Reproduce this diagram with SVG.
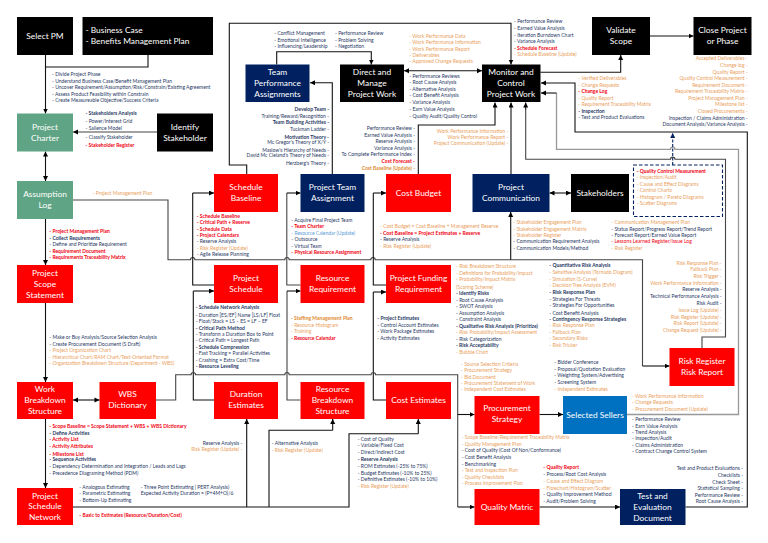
<svg xmlns="http://www.w3.org/2000/svg" width="768" height="543" viewBox="0 0 768 543">
<style>
text{font-family:"Lato","Open Sans","Liberation Sans",sans-serif;font-size:5px}
.n{fill:#1f3864}.o{fill:#e9a05c}.r{fill:#f00010;font-weight:700}.b{fill:#1f3864;font-weight:700}.ob{fill:#e08a30;font-weight:700}.lb{fill:#5b9bd5}
.e{text-anchor:end}
.t{fill:#fff;font-size:8.4px;text-anchor:middle}
.tl{fill:#fff;font-size:8.4px}
.red{fill:#f00}.blk{fill:#000}.nav{fill:#002060}.grn{fill:#5fa585}.blu{fill:#0070c0}
.c{fill:none;stroke:#111;stroke-width:1.1}
.d{fill:none;stroke:#444;stroke-width:1.1}
.g{fill:none;stroke:#999;stroke-width:1.3}
.a{marker-end:url(#ah)}.s{marker-start:url(#as)}
</style>
<defs>
<marker id="ah" markerWidth="6" markerHeight="6" refX="5" refY="2.5" orient="auto" markerUnits="userSpaceOnUse"><path d="M0 0L5 2.5L0 5z" fill="#000"/></marker>
<marker id="as" markerWidth="6" markerHeight="6" refX="0" refY="2.5" orient="auto" markerUnits="userSpaceOnUse"><path d="M5 0L0 2.5L5 5z" fill="#000"/></marker>
<marker id="an" markerWidth="6" markerHeight="6" refX="5" refY="2.5" orient="auto" markerUnits="userSpaceOnUse"><path d="M0 0L5 2.5L0 5z" fill="#002060"/></marker>
</defs>

<g id="connectors">
<path class="c a" d="M45.5 55V113.5"/>
<path class="c" d="M148 55V67H45.5"/>
<path class="d a" d="M157 132H73"/>
<path class="c a s" d="M45.5 151.5V181"/>
<path class="c a" d="M45.5 219V265"/>
<path class="c a" d="M45.5 303V382"/>
<path class="c a" d="M45.5 419V488"/>
<path class="c a s" d="M99.5 400H73"/>
<path class="d" d="M73 200H168V259.7H190.5A2.2 2.2 0 0 1 194.9 259.7H284.8A2.2 2.2 0 0 1 289.2 259.7H370.8A2.2 2.2 0 0 1 375.2 259.7H642.5V366"/>
<path class="c a" d="M642.5 366H669.5"/>
<path class="c a" d="M510.7 259.7V212"/>
<path class="c" d="M214 285H192.7V193"/>
<path class="c a" d="M192.7 193H214"/>
<path class="c" d="M214 400H193.3V291"/>
<path class="c a" d="M193.3 291H214"/>
<path class="d" d="M300.5 285H286.8V193"/>
<path class="c a" d="M286.8 193H300.5"/>
<path class="d" d="M300.5 400H287V291"/>
<path class="c a" d="M287 291H300.5"/>
<path class="c" d="M386 285H373.3V193"/>
<path class="c a" d="M373.3 193H386"/>
<path class="c" d="M386 400H373.3V292"/>
<path class="c a" d="M373.3 292H386"/>
<path class="d" d="M156 400H175.7V374.7H191.1A2.2 2.2 0 0 1 195.5 374.7H284.8A2.2 2.2 0 0 1 289.2 374.7H371.1A2.2 2.2 0 0 1 375.5 374.7H457.7V507"/>
<path class="c a" d="M457.7 414.5H474.5"/>
<path class="c a" d="M457.7 507H474.5"/>
<path class="c" d="M73 507H349V433.7H418.3"/>
<path class="c a" d="M418.3 433.7V419"/>
<path class="c a" d="M246.7 507V419"/>
<path class="c" d="M269 507V430.3H332.7"/>
<path class="c a" d="M332.7 430.3V419"/>
<path class="c a" d="M539.5 414.5H563"/>
<path class="c a" d="M539.5 507H620"/>
<path class="c a" d="M685.5 507H747.3V132H575V83H541"/>
<path class="g" d="M627 414.5H738.5V149.3H674.9A2.2 2.2 0 0 0 670.5 149.3H556.5V93"/>
<path class="c a" d="M556.5 93H541"/>
<path class="d" d="M702 348V337H725.5V159.3H674.9A2.2 2.2 0 0 0 670.5 159.3H525.7V110"/>
<path class="c a" d="M525.7 110V102.5"/>
<path class="c a" d="M540.5 72.3H620.7V55"/>
<path class="c a" d="M650 36H693.5"/>
<path class="c a s" d="M404 70.7H482"/>
<path class="c a" d="M276.7 64.5V51.7H371.3V64.5"/>
<path class="c a" d="M246.7 174V165H229.3V23.3H511V64.5"/>
<path class="c a" d="M332.3 174V82.7H310"/>
<path class="c a" d="M418.3 174V125H495V102.5"/>
<path class="c a" d="M511 174V102.5"/>
<path class="c a s" d="M549.5 193H571"/>
<path fill="none" stroke="#002060" stroke-width="1.1" stroke-dasharray="3 1.5" marker-end="url(#an)" d="M672.7 165V133"/>
</g>

<g id="select-pm"><rect class="blk" x="17" y="17" width="56" height="38"/><text class="t" x="45" y="39">Select PM</text></g>
<g id="business-case"><rect class="blk" x="82.5" y="17" width="130.5" height="38"/><text class="tl" x="85.5" y="33">- Business Case</text><text class="tl" x="85.5" y="44">- Benefits Management Plan</text></g>
<g id="project-charter"><rect class="grn" x="17" y="113.5" width="56" height="38"/><text class="t" x="45" y="130">Project</text><text class="t" x="45" y="141">Charter</text></g>
<g id="identify-stakeholder"><rect class="blk" x="157" y="113.5" width="56" height="38"/><text class="t" x="185" y="130">Identify</text><text class="t" x="185" y="141">Stakeholder</text></g>
<g id="assumption-log"><rect class="grn" x="17" y="181" width="56" height="38"/><text class="t" x="45" y="197">Assumption</text><text class="t" x="45" y="208">Log</text></g>
<g id="scope-statement"><rect class="red" x="17" y="265" width="56" height="38"/><text class="t" x="45" y="275.500">Project</text><text class="t" x="45" y="286.500">Scope</text><text class="t" x="45" y="297.500">Statement</text></g>
<g id="wbs"><rect class="red" x="17" y="382" width="56" height="37"/><text class="t" x="45" y="391.500">Work</text><text class="t" x="45" y="402.500">Breakdown</text><text class="t" x="45" y="413.500">Structure</text></g>
<g id="wbs-dictionary"><rect class="red" x="99.5" y="382" width="56.500" height="37"/><text class="t" x="127.500" y="397">WBS</text><text class="t" x="127.500" y="408">Dictionary</text></g>
<g id="schedule-network"><rect class="red" x="17" y="488" width="56" height="37"/><text class="t" x="45" y="498.500">Project</text><text class="t" x="45" y="509">Schedule</text><text class="t" x="45" y="520">Network</text></g>
<g id="schedule-baseline"><rect class="red" x="214" y="174" width="64" height="38"/><text class="t" x="246" y="190">Schedule</text><text class="t" x="246" y="201">Baseline</text></g>
<g id="team-assignment"><rect class="nav" x="300.5" y="174" width="64" height="38"/><text class="t" x="332.500" y="190">Project Team</text><text class="t" x="332.500" y="201">Assignment</text></g>
<g id="cost-budget"><rect class="red" x="386" y="174" width="65" height="38"/><text class="t" x="418.500" y="195.500">Cost Budget</text></g>
<g id="project-communication"><rect class="nav" x="472.5" y="174" width="77" height="38"/><text class="t" x="511" y="190">Project</text><text class="t" x="511" y="201">Communication</text></g>
<g id="stakeholders"><rect class="blk" x="571" y="174" width="58" height="38"/><text class="t" x="600" y="195.500">Stakeholders</text></g>
<g id="project-schedule"><rect class="red" x="214" y="265" width="64" height="38"/><text class="t" x="246" y="281">Project</text><text class="t" x="246" y="292">Schedule</text></g>
<g id="resource-requirement"><rect class="red" x="300.5" y="265" width="64" height="38"/><text class="t" x="332.500" y="281">Resource</text><text class="t" x="332.500" y="292">Requirement</text></g>
<g id="funding-requirement"><rect class="red" x="386" y="265" width="65" height="38"/><text class="t" x="418.500" y="281">Project Funding</text><text class="t" x="418.500" y="292">Requirement</text></g>
<g id="duration-estimates"><rect class="red" x="214" y="382" width="64" height="37"/><text class="t" x="246" y="397">Duration</text><text class="t" x="246" y="408">Estimates</text></g>
<g id="resource-breakdown"><rect class="red" x="300.5" y="382" width="64" height="37"/><text class="t" x="332.500" y="391.500">Resource</text><text class="t" x="332.500" y="402.500">Breakdown</text><text class="t" x="332.500" y="413.500">Structure</text></g>
<g id="cost-estimates"><rect class="red" x="386" y="382" width="65" height="37"/><text class="t" x="418.500" y="402.500">Cost Estimates</text></g>
<g id="procurement-strategy"><rect class="red" x="474.5" y="396" width="65" height="38"/><text class="t" x="507" y="411">Procurement</text><text class="t" x="507" y="422">Strategy</text></g>
<g id="quality-matric"><rect class="red" x="474.5" y="489" width="65" height="36"/><text class="t" x="507" y="510">Quality Matric</text></g>
<g id="selected-sellers"><rect class="blu" x="563" y="396" width="64" height="38"/><text class="t" x="595" y="417.500">Selected Sellers</text></g>
<g id="test-evaluation"><rect class="nav" x="620" y="489" width="65.500" height="36"/><text class="t" x="652.500" y="498.500">Test and</text><text class="t" x="652.500" y="509.500">Evaluation</text><text class="t" x="652.500" y="520.500">Document</text></g>
<g id="risk-register"><rect class="red" x="669.5" y="348" width="65" height="38"/><text class="t" x="702" y="364">Risk Register</text><text class="t" x="702" y="374.500">Risk Report</text></g>
<g id="team-performance"><rect class="nav" x="245.5" y="64.500" width="64" height="37.500"/><text class="t" x="277.500" y="74.500">Team</text><text class="t" x="277.500" y="85.500">Performance</text><text class="t" x="277.500" y="96.500">Assignments</text></g>
<g id="direct-manage"><rect class="blk" x="340" y="64.500" width="64" height="37.500"/><text class="t" x="372" y="74.500">Direct and</text><text class="t" x="372" y="85.500">Manage</text><text class="t" x="372" y="96.500">Project Work</text></g>
<g id="monitor-control"><rect class="blk" x="482" y="64.500" width="58.500" height="37.500"/><text class="t" x="511" y="74.500">Monitor and</text><text class="t" x="511" y="85.500">Control</text><text class="t" x="511" y="96.500">Project Work</text></g>
<g id="validate-scope"><rect class="blk" x="592" y="17" width="58" height="38"/><text class="t" x="621" y="33">Validate</text><text class="t" x="621" y="44">Scope</text></g>
<g id="close-project"><rect class="blk" x="693.5" y="17" width="58" height="38"/><text class="t" x="722.500" y="33">Close Project</text><text class="t" x="722.500" y="44">or Phase</text></g>
<g id="quality-control-box"><rect x="633.5" y="165" width="89" height="51.500" fill="#fff" stroke="#002060" stroke-width="1.1" stroke-dasharray="3.500 2"/>
<text class="r" x="636.700" y="172.700">- Quality Control Measurement</text>
<text class="o" x="636.700" y="179">- Inspection/Audit</text>
<text class="o" x="636.700" y="185.700">- Cause and Effect Diagrams</text>
<text class="o" x="636.700" y="191.700">- Control Charts</text>
<text class="o" x="636.700" y="199">- Histogram / Pareto Diagrams</text>
<text class="o" x="636.700" y="205">- Scatter Diagrams</text></g>

<g id="annotations">
<text class="n" x="52" y="76.400">- Divide Project Phase</text>
<text class="n" x="52" y="83">- Understand Business Case/Benefit Management Plan</text>
<text class="n" x="52" y="89">- Uncover Requirement/Assumption/Risk/Constrain/Existing Agreement</text>
<text class="n" x="52" y="95.700">- Assess Product Feasibility within Constrain</text>
<text class="n" x="52" y="102.400">- Create Measureable Objective/Success Criteria</text>
<text class="b" x="85.500" y="115.400">- Stakeholders Analysis</text>
<text class="n" x="85.500" y="122.700">- Power/Interest Grid</text>
<text class="n" x="85.500" y="129.700">- Salience Model</text>
<text class="n" x="85.500" y="139.400">- Classify Stakeholder</text>
<text class="r" x="85.500" y="146.700">- Stakeholder Register</text>

<text class="n" x="274.300" y="35">- Conflict Management</text>
<text class="n" x="274.300" y="41.700">- Emotional Intelligence</text>
<text class="n" x="274.300" y="48.400">- Influencing/Leadership</text>
<text class="n" x="335" y="35">- Performance Review</text>
<text class="n" x="335" y="41.700">- Problem Solving</text>
<text class="n" x="335" y="48.400">- Negotiation</text>

<text class="b e" x="329" y="111">Develop Team -</text>
<text class="n e" x="329" y="118.400">Training/Reward/Recognition -</text>
<text class="b e" x="329" y="124.400">Team Building Activities -</text>
<text class="n e" x="329" y="131">Tuckman Ladder -</text>
<text class="b e" x="329" y="138.700">Motivation Theory -</text>
<text class="n e" x="329" y="144.400">Mc Gregor's Theory of X/Y -</text>
<text class="n e" x="329" y="151.700">Maslow's Hierarchy of Needs -</text>
<text class="n e" x="329" y="157.400">David Mc Cleland's Theory of Needs -</text>
<text class="n e" x="329" y="165">Herzberg's Theory -</text>

<text class="n e" x="415" y="129.700">Performance Review -</text>
<text class="n e" x="415" y="136.700">Earned Value Analysis -</text>
<text class="n e" x="415" y="142.700">Reserve Analysis -</text>
<text class="n e" x="415" y="149.700">Variance Analysis -</text>
<text class="n e" x="415" y="156">To Complete Performance Index -</text>
<text class="r e" x="415" y="162.700">Cost Forecast -</text>
<text class="ob e" x="415" y="170">Cost Baseline (Update) -</text>

<text class="o" x="409.300" y="37.700">- Work Performance Data</text>
<text class="o" x="409.300" y="44">- Work Performance Information</text>
<text class="o" x="409.300" y="51">- Work Performance Report</text>
<text class="o" x="409.300" y="57">- Deliverables</text>
<text class="o" x="409.300" y="63.400">- Approved Change Requests</text>
<text class="n" x="409.300" y="78.400">- Performance Reviews</text>
<text class="n" x="409.300" y="84.400">- Root Cause Analysis</text>
<text class="n" x="409.300" y="91.400">- Alternative Analysis</text>
<text class="n" x="409.300" y="97.400">- Cost Benefit Analysis</text>
<text class="n" x="409.300" y="104.400">- Variance Analysis</text>
<text class="n" x="409.300" y="110.700">- Earn Value Analysis</text>
<text class="n" x="409.300" y="117.700">- Quality Audit/Quality Control</text>

<text class="n" x="514" y="22.700">- Performance Review</text>
<text class="n" x="514" y="30">- Earned Value Analysis</text>
<text class="n" x="514" y="36.700">- Iteration Burndown Chart</text>
<text class="n" x="514" y="43">- Variance Analysis</text>
<text class="r" x="514" y="50">- Schedule Forecast</text>
<text class="o" x="514" y="56">- Schedule Baseline (Update)</text>

<text class="o e" x="508.300" y="132.700">Work Performance Information -</text>
<text class="o e" x="508.300" y="138.700">Work Performance Report -</text>
<text class="o e" x="508.300" y="144.700">Project Communication (Update) -</text>

<text class="o" x="578.300" y="80">- Verified Deliverables</text>
<text class="o" x="578.300" y="86.700">- Change Requests</text>
<text class="r" x="578.300" y="93.400">- Change Log</text>
<text class="o" x="578.300" y="100.400">- Quality Report</text>
<text class="o" x="578.300" y="106.400">- Requirement Traceability Matrix</text>
<text class="b" x="578.300" y="112.700">- Inspection</text>
<text class="n" x="578.300" y="119.400">- Test and Product Evaluations</text>

<text class="o e" x="747.700" y="60.400">Accepted Deliverables -</text>
<text class="o e" x="747.700" y="67.400">Change log -</text>
<text class="o e" x="747.700" y="74">Quality Report -</text>
<text class="o e" x="747.700" y="80.400">Quality Control Measurement -</text>
<text class="o e" x="747.700" y="87.400">Requirement Document -</text>
<text class="o e" x="747.700" y="93.400">Requirement Traceability Matrix -</text>
<text class="o e" x="747.700" y="100.400">Project Management Plan -</text>
<text class="o e" x="747.700" y="106.400">Milestone list -</text>
<text class="o e" x="747.700" y="112.700">Closed Procurements -</text>
<text class="n e" x="747.700" y="119.700">Inspection / Claims Administration -</text>
<text class="n e" x="747.700" y="125.700">Document Analysis/Variance Analysis -</text>

<text class="o" x="92.700" y="195">- Project Management Plan</text>
<text class="r" x="49.300" y="233.400">- Project Management Plan</text>
<text class="b" x="49.300" y="240">- Collect Requirements</text>
<text class="n" x="49.300" y="246.400">- Define and Prioritize Requirement</text>
<text class="r" x="49.300" y="253">- Requirement Document</text>
<text class="r" x="49.300" y="259.400">- Requirements Traceability Matrix</text>
<text class="n" x="49.300" y="338.700">- Make or Buy Analysis/Source Selection Analysis</text>
<text class="n" x="49.300" y="345.700">- Create Procurement Document (S Draft)</text>
<text class="o" x="49.300" y="351.700">- Project Organization Chart</text>
<text class="o" x="49.300" y="359">- Hierarchical Chart/RAM Chart/Text-Oriented Format</text>
<text class="o" x="49.300" y="365">- Organization Breakdown Structure (Department - WBS)</text>

<text class="r" x="196.700" y="218">- Schedule Baseline</text>
<text class="r" x="196.700" y="224">- Critical Path + Reserve</text>
<text class="r" x="196.700" y="231">- Schedule Data</text>
<text class="r" x="196.700" y="237">- Project Calendars</text>
<text class="n" x="196.700" y="243.400">- Reserve Analysis</text>
<text class="o" x="196.700" y="250">- Risk Register (Update)</text>
<text class="n" x="196.700" y="256.400">- Agile Release Planning</text>

<text class="n" x="291.300" y="221.700">- Acquire Final Project Team</text>
<text class="r" x="291.300" y="228">- Team Charter</text>
<text class="lb" x="291.300" y="235">- Resource Calendar (Update)</text>
<text class="n" x="291.300" y="241">- Outsource</text>
<text class="n" x="291.300" y="248">- Virtual Team</text>
<text class="r" x="291.300" y="254">- Physical Resource Assignment</text>

<text class="b" x="195.700" y="309.400">- Schedule Network Analysis</text>
<text class="n" x="195.700" y="316.700">- Duration [ES/EF] Name [LS/LF] Float</text>
<text class="n" x="195.700" y="322.700">- Float/Stack = LS – ES = LF – EF</text>
<text class="b" x="195.700" y="329.700">- Critical Path Method</text>
<text class="n" x="195.700" y="335.700">- Transform a Duration Box to Point</text>
<text class="n" x="195.700" y="341.700">- Critical Path = Longest Path</text>
<text class="b" x="195.700" y="348.700">- Schedule Compression</text>
<text class="n" x="195.700" y="355">- Fast Tracking = Parallel Activities</text>
<text class="n" x="195.700" y="361.700">- Crashing = Extra Cost/Time</text>
<text class="b" x="195.700" y="367.700">- Resource Leveling</text>

<text class="ob" x="291" y="319.700">- Staffing Management Plan</text>
<text class="o" x="291" y="326.700">- Resource Histogram</text>
<text class="o" x="291" y="332.700">- Training</text>
<text class="r" x="291" y="339.700">- Resource Calendar</text>

<text class="o" x="380" y="228">- Cost Budget = Cost Baseline + Management Reserve</text>
<text class="r" x="380" y="235">- Cost Baseline = Project Estimates + Reserve</text>
<text class="n" x="380" y="241">- Reserve Analysis</text>
<text class="o" x="380" y="248">- Risk Register (Update)</text>

<text class="o" x="513.300" y="224">- Stakeholder Engagement Plan</text>
<text class="o" x="513.300" y="230.700">- Stakeholder Engagement Matrix</text>
<text class="o" x="513.300" y="237">- Stakeholder Register</text>
<text class="n" x="513.300" y="243.400">- Communication Requirement Analysis</text>
<text class="n" x="513.300" y="250">- Communication Models/Method</text>

<text class="o" x="611.300" y="224">- Communication Management Plan</text>
<text class="n" x="611.300" y="230.700">- Status Report/Progress Report/Trend Report</text>
<text class="n" x="611.300" y="237">- Forecast Report/Earned Value Report</text>
<text class="r" x="611.300" y="243.400" style="font-weight:400">- Lessons Learned Register/Issue Log</text>
<text class="o" x="611.300" y="250">- Risk Register</text>

<text class="o" x="456" y="268.400">- Risk Breakdown Structure</text>
<text class="o" x="456" y="275.400">- Definitions for Probability/Impact</text>
<text class="o" x="456" y="281.400">- Probability/Impact Matrix</text>
<text class="o" x="456" y="288.700">(Scoring Scheme)</text>
<text class="b" x="456" y="294.700">- Identify Risks</text>
<text class="n" x="456" y="301.700">- Root Cause Analysis</text>
<text class="n" x="456" y="307.700">- SWOT Analysis</text>
<text class="n" x="456" y="314.700">- Assumption Analysis</text>
<text class="n" x="456" y="320.700">- Constraint Analysis</text>
<text class="b" x="456" y="327.700">- Qualitative Risk Analysis (Prioritize)</text>
<text class="o" x="456" y="333.700">- Risk Probability/Impact Assessment</text>
<text class="n" x="456" y="340.700">- Risk Categorization</text>
<text class="b" x="456" y="346.700">- Risk Acceptability</text>
<text class="o" x="456" y="354">- Bubble Chart</text>

<text class="b" x="377.300" y="319.700">- Project Estimates</text>
<text class="n" x="377.300" y="326.700">- Control Account Estimates</text>
<text class="n" x="377.300" y="332.700">- Work Package Estimates</text>
<text class="n" x="377.300" y="339.700">- Activity Estimates</text>

<text class="b" x="549.300" y="267.400">- Quantitative Risk Analysis</text>
<text class="o" x="549.300" y="274.400">- Sensitive Analysis (Tornado Diagram)</text>
<text class="o" x="549.300" y="281">- Simulation (S-Curve)</text>
<text class="o" x="549.300" y="287.400">- Decision Tree Analysis (EVM)</text>
<text class="b" x="549.300" y="294.400">- Risk Response Plan</text>
<text class="n" x="549.300" y="300.700">- Strategies For Threats</text>
<text class="n" x="549.300" y="307.400">- Strategies For Opportunities</text>
<text class="n" x="549.300" y="314.700">- Cost Benefit Analysis</text>
<text class="b" x="549.300" y="320.700">- Contingency Response Strategies</text>
<text class="o" x="549.300" y="327">- Risk Response Plan</text>
<text class="o" x="549.300" y="333.700">- Fallback Plan</text>
<text class="o" x="549.300" y="340">- Secondary Risks</text>
<text class="o" x="549.300" y="346.700">- Risk Tricker</text>

<text class="o e" x="721.700" y="265">Risk Response Plan -</text>
<text class="o e" x="721.700" y="271.400">Fallback Plan -</text>
<text class="o e" x="721.700" y="278.400">Risk Trigger -</text>
<text class="o e" x="721.700" y="285.400">Work Performance Information -</text>
<text class="n e" x="721.700" y="291.400">Reserve Analysis -</text>
<text class="n e" x="721.700" y="298.400">Technical Performance Analysis -</text>
<text class="n e" x="721.700" y="304.700">Risk Audit -</text>
<text class="o e" x="721.700" y="311.700">Issue Log (Update) -</text>
<text class="o e" x="721.700" y="318.700">Risk Register (Update) -</text>
<text class="o e" x="721.700" y="324.700">Risk Report (Update) -</text>
<text class="o e" x="721.700" y="331.700">Change Request (Update) -</text>

<text class="o" x="461" y="366">- Source Selection Criteria</text>
<text class="o" x="461" y="372">- Procurement Strategy</text>
<text class="o" x="461" y="379">- Bid Document</text>
<text class="o" x="461" y="385">- Procurement Statement of Work</text>
<text class="o" x="461" y="391">- Independent Cost Estimates</text>

<text class="n" x="554.300" y="364">- Bidder Conference</text>
<text class="n" x="554.300" y="371">- Proposal/Quotation Evaluation</text>
<text class="n" x="554.300" y="377">- Weighting System/Advertising</text>
<text class="n" x="554.300" y="384">- Screening System</text>
<text class="o" x="554.300" y="391">- Independent Estimates</text>

<text class="o" x="461.700" y="439">- Scope Baseline/Requirement Traceability Matrix</text>
<text class="o" x="461.700" y="445.700">- Quality Management Plan</text>
<text class="n" x="461.700" y="452.400">- Cost of Quality (Cost Of Non/Conformance)</text>
<text class="n" x="461.700" y="459.400">- Cost Benefit Analysis</text>
<text class="n" x="461.700" y="465.700">- Benchmarking</text>
<text class="o" x="461.700" y="472.400">- Test and Inspection Plan</text>
<text class="o" x="461.700" y="478.700">- Quality Checklists</text>
<text class="o" x="461.700" y="485.400">- Process Improvement Plan</text>

<text class="r" x="543.300" y="469.400">- Quality Report</text>
<text class="n" x="543.300" y="476.400">- Process/Root Cost Analysis</text>
<text class="o" x="543.300" y="482.700">- Cause and Effect Diagram</text>
<text class="o" x="543.300" y="490">- Flowchart/Histogram/Scatter</text>
<text class="n" x="543.300" y="495.700">- Quality Improvement Method</text>
<text class="n" x="543.300" y="502.700">- Audit/Problem Solving</text>

<text class="o" x="632" y="397.700">- Work Performance Information</text>
<text class="o" x="632" y="404">- Change Requests</text>
<text class="o" x="632" y="411">- Procurement Document (Update)</text>
<text class="n" x="632" y="421">- Performance Review</text>
<text class="n" x="632" y="428.400">- Earn Value Analysis</text>
<text class="n" x="632" y="434">- Trend Analysis</text>
<text class="n" x="632" y="440.400">- Inspection/Audit</text>
<text class="n" x="632" y="447.400">- Claims Administration</text>
<text class="n" x="632" y="453.400">- Contract Change Control System</text>

<text class="n e" x="743" y="470.400">Test and Product Evaluations -</text>
<text class="n e" x="743" y="477.400">Checklists -</text>
<text class="n e" x="743" y="483.700">Check Sheet -</text>
<text class="n e" x="743" y="489.700">Statistical Sampling -</text>
<text class="n e" x="743" y="496.700">Performance Review -</text>
<text class="n e" x="743" y="502.700">Root Cause Analysis -</text>

<text class="r" x="49.300" y="428.400">- Scope Baseline = Scope Statement + WBS + WBS Dictionary</text>
<text class="b" x="49.300" y="435">- Define Activities</text>
<text class="r" x="49.300" y="441.400">- Activity List</text>
<text class="r" x="49.300" y="448.400">- Activity Attributes</text>
<text class="r" x="49.300" y="455.700">- Milestone List</text>
<text class="b" x="49.300" y="461.400">- Sequence Activities</text>
<text class="n" x="49.300" y="468.400">- Dependency Determination and Integration / Leads and Lags</text>
<text class="n" x="49.300" y="474.700">- Precedence Diagraming Method (PDM)</text>

<text class="n" x="79.300" y="488.700">- Analogous Estimating</text>
<text class="n" x="79.300" y="494.700">- Parametric Estimating</text>
<text class="n" x="79.300" y="501.700">- Bottom-Up Estimating</text>
<text class="n" x="140.700" y="488.700">- Three Point Estimating | PERT Analysis)</text>
<text class="n" x="140.700" y="494.700">Expected Activity Duration = (P+4M+O)/6</text>
<text class="r" x="79.300" y="516.700">- Basic to Estimates (Resource/Duration/Cost)</text>

<text class="n e" x="242.300" y="445">Reserve Analysis -</text>
<text class="o e" x="242.300" y="451.400">Risk Register (Update) -</text>
<text class="n" x="271.700" y="445">- Alternative Analysis</text>
<text class="o" x="271.700" y="452.400">- Risk Register (Update)</text>

<text class="n" x="357.700" y="441.400">- Cost of Quality</text>
<text class="n" x="357.700" y="447.400">- Variable/Fixed Cost</text>
<text class="n" x="357.700" y="454.400">- Direct/Indirect Cost</text>
<text class="b" x="357.700" y="460.700">- Reserve Analysis</text>
<text class="n" x="357.700" y="467.700">- ROM Estimates (-25% to 75%)</text>
<text class="n" x="357.700" y="474.700">- Budget Estimates (-10% to 25%)</text>
<text class="n" x="357.700" y="480.700">- Definitive Estimates (-10% to 10%)</text>
<text class="o" x="357.700" y="487.700">- Risk Register (Update)</text>
</g>
</svg>
